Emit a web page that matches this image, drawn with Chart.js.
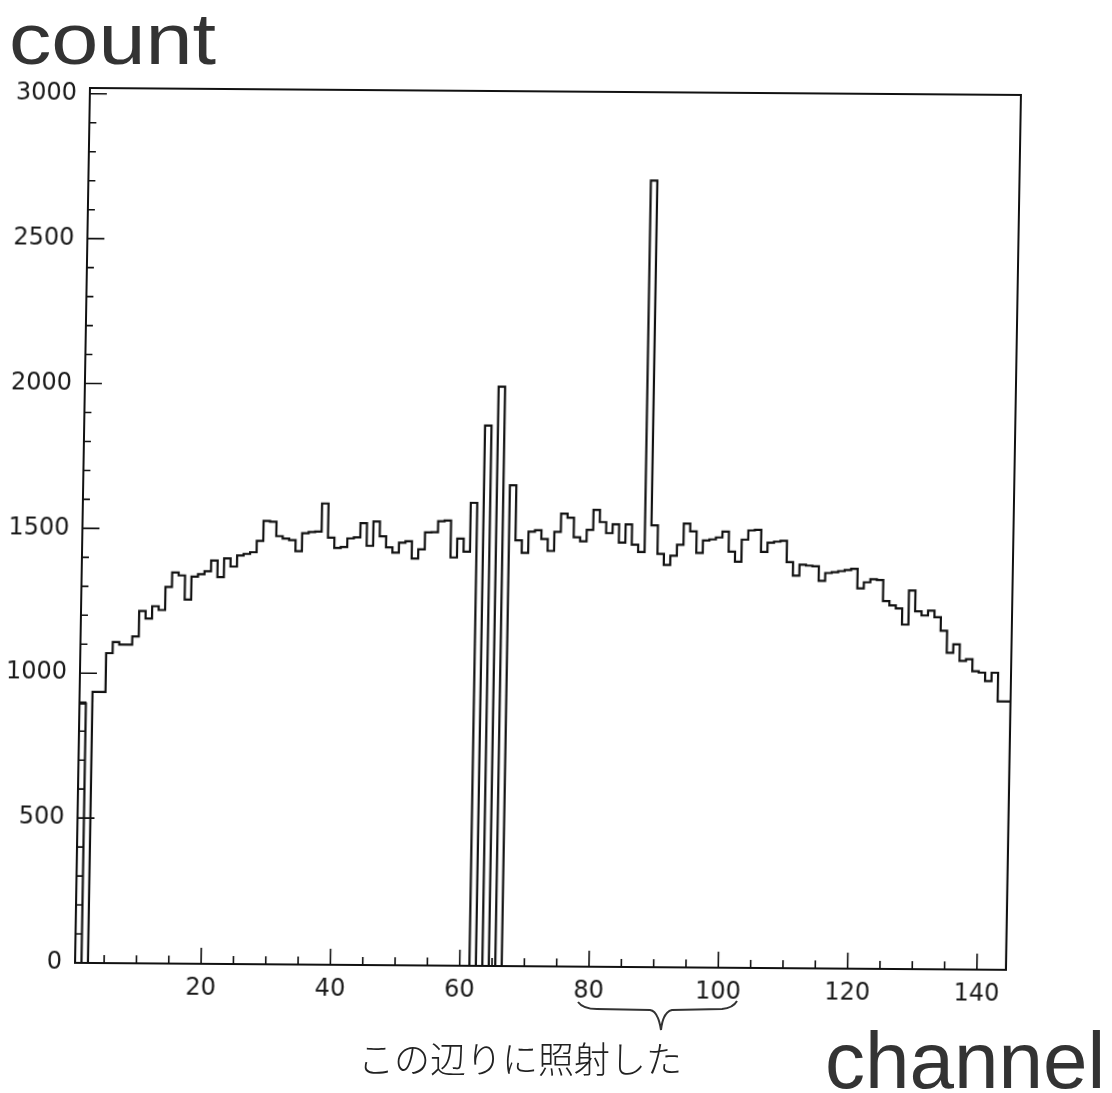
<!DOCTYPE html>
<html>
<head>
<meta charset="utf-8">
<script src="https://cdn.jsdelivr.net/npm/chart.js@4.4.1/dist/chart.umd.min.js"></script>
<style>
  html, body { margin: 0; padding: 0; background: #fff; }
  body { width: 1112px; height: 1093px; position: relative; overflow: hidden; }
  /* the printed frame sits slightly askew on the page */
  #plot { position: absolute; left: 0; top: 0; transform-origin: 75px 963px; transform: matrix(1, 0.0075, -0.0171, 1, 0, 0); }
  .lbl { position: absolute; white-space: nowrap; line-height: 1; }
  #count { left: 9px; top: 2px; font-size: 73px; color: #333; font-family: "Liberation Sans", Arial, sans-serif; transform-origin: 0 0; transform: scaleX(1.16); }
  #channel { left: 825px; top: 1021px; font-size: 80px; color: #333; font-family: "Liberation Sans", Arial, sans-serif; }
  #note { left: 358px; top: 1039px; font-size: 36px; line-height: 36px; color: #222; font-family: "Noto Sans CJK JP", sans-serif; font-weight: 300; }
  #brace { position: absolute; left: 0; top: 0; }
</style>
</head>
<body>
<canvas id="plot" width="1112" height="1093"></canvas>
<div class="lbl" id="count">count</div>
<div class="lbl" id="channel">channel</div>
<div class="lbl" id="note">この辺りに照射した</div>
<svg id="brace" width="1112" height="1093">
  <path d="M578,1002 Q583,1009 597,1009 L650,1010 Q658,1011 661,1030 Q663,1012 672,1010 L722,1009 Q733,1008 737,1001"
        fill="none" stroke="#333" stroke-width="2"/>
</svg>
<script>
// channel numbers (one bin per channel)
const channels = [
  1, 2, 3, 4, 5, 6, 7, 8, 9, 10, 11, 12, 13, 14, 15, 16, 17, 18, 19, 20,
  21, 22, 23, 24, 25, 26, 27, 28, 29, 30, 31, 32, 33, 34, 35, 36, 37, 38, 39, 40,
  41, 42, 43, 44, 45, 46, 47, 48, 49, 50, 51, 52, 53, 54, 55, 56, 57, 58, 59, 60,
  61, 62, 63, 64, 65, 66, 67, 68, 69, 70, 71, 72, 73, 74, 75, 76, 77, 78, 79, 80,
  81, 82, 83, 84, 85, 86, 87, 88, 89, 90, 91, 92, 93, 94, 95, 96, 97, 98, 99, 100,
  101, 102, 103, 104, 105, 106, 107, 108, 109, 110, 111, 112, 113, 114, 115, 116, 117, 118, 119, 120,
  121, 122, 123, 124, 125, 126, 127, 128, 129, 130, 131, 132, 133, 134, 135, 136, 137, 138, 139, 140,
  141, 142, 143, 144
];

// counts per channel
const counts = [
  900, 895, 0, 936, 936, 1070, 1108, 1100, 1100, 1128,
  1216, 1190, 1233, 1220, 1300, 1350, 1340, 1257, 1336, 1345,
  1355, 1392, 1335, 1400, 1372, 1410, 1416, 1422, 1461, 1530,
  1528, 1478, 1470, 1465, 1427, 1489, 1493, 1495, 1592, 1474,
  1439, 1442, 1472, 1476, 1525, 1447, 1531, 1480, 1442, 1424,
  1459, 1464, 1404, 1436, 1495, 1496, 1534, 1536, 1409, 1474,
  1429, 1598, 0, 1865, 0, 2000, 0, 1660, 1470, 1427,
  1500, 1505, 1475, 1434, 1500, 1563, 1549, 1482, 1468, 1508,
  1577, 1535, 1497, 1528, 1465, 1528, 1458, 1433, 2715, 1525,
  1427, 1389, 1421, 1459, 1532, 1505, 1431, 1474, 1478, 1485,
  1505, 1436, 1402, 1478, 1510, 1512, 1436, 1468, 1472, 1475,
  1402, 1355, 1393, 1390, 1388, 1338, 1365, 1368, 1372, 1376,
  1380, 1313, 1334, 1345, 1342, 1270, 1255, 1245, 1189, 1307,
  1235, 1221, 1238, 1215, 1169, 1093, 1122, 1065, 1071, 1030,
  1025, 996, 1025, 926
];

// axis ranges and labelled ticks
const xRange = [0.5, 144.5];
const yRange = [0, 3020];
const xTickLabels = [20, 40, 60, 80, 100, 120, 140];
const yTickLabels = [0, 500, 1000, 1500, 2000, 2500, 3000];
const xMinorStep = 5;
const xMajorStep = 20;
const yMinorStep = 100;
const yMajorStep = 500;

// histogram outline: each bin spans [channel - 0.5, channel + 0.5]
const lastIdx = channels.length - 1;
const outline = [{ x: channels[0] - 0.5, y: 0 }];
channels.forEach((ch, i) => outline.push({ x: ch - 0.5, y: counts[i] }));
outline.push({ x: channels[lastIdx] + 0.5, y: counts[lastIdx] });
outline.push({ x: channels[lastIdx] + 0.5, y: 0 });

// frame around the plot plus inward tick marks
const framePlugin = {
  id: 'frameTicks',
  afterDatasetsDraw(chart) {
    const { ctx, chartArea: a, scales: { x, y } } = chart;
    ctx.save();
    ctx.strokeStyle = '#111';
    ctx.lineWidth = 2;
    ctx.strokeRect(a.left, a.top, a.right - a.left, a.bottom - a.top);
    ctx.lineWidth = 1.6;
    ctx.beginPath();
    for (let v = xMinorStep; v <= xRange[1]; v += xMinorStep) {
      const px = x.getPixelForValue(v);
      const len = v % xMajorStep === 0 ? 16 : 8;
      ctx.moveTo(px, a.bottom);
      ctx.lineTo(px, a.bottom - len);
    }
    for (let v = yMinorStep; v <= yRange[1]; v += yMinorStep) {
      const py = y.getPixelForValue(v);
      const len = v % yMajorStep === 0 ? 17 : 7;
      ctx.moveTo(a.left, py);
      ctx.lineTo(a.left + len, py);
    }
    ctx.stroke();
    ctx.restore();
  }
};

const tickFont = { family: '"DejaVu Sans", "Liberation Sans", sans-serif', size: 24 };
const plainNumber = v => String(v);

new Chart(document.getElementById('plot'), {
  type: 'line',
  data: {
    datasets: [{
      data: outline,
      stepped: 'after',
      borderColor: '#111',
      borderWidth: 2.2,
      pointRadius: 0,
      fill: false
    }]
  },
  options: {
    responsive: false,
    animation: false,
    devicePixelRatio: 1,
    layout: { padding: { left: 0, top: 88, right: 106, bottom: 90 } },
    plugins: { legend: { display: false }, tooltip: { enabled: false } },
    scales: {
      x: {
        type: 'linear',
        min: xRange[0],
        max: xRange[1],
        grid: { display: false, drawTicks: false },
        border: { display: false },
        afterBuildTicks: s => { s.ticks = xTickLabels.map(v => ({ value: v })); },
        afterFit: s => { s.height = 40; },
        ticks: { padding: 10, color: '#1a1a1a', font: tickFont, maxRotation: 0, autoSkip: false, callback: plainNumber }
      },
      y: {
        type: 'linear',
        min: yRange[0],
        max: yRange[1],
        grid: { display: false, drawTicks: false },
        border: { display: false },
        afterBuildTicks: s => { s.ticks = yTickLabels.map(v => ({ value: v })); },
        afterFit: s => { s.width = 75; },
        ticks: { padding: 13, color: '#1a1a1a', font: tickFont, autoSkip: false, callback: plainNumber }
      }
    }
  },
  plugins: [framePlugin]
});
</script>
</body>
</html>
